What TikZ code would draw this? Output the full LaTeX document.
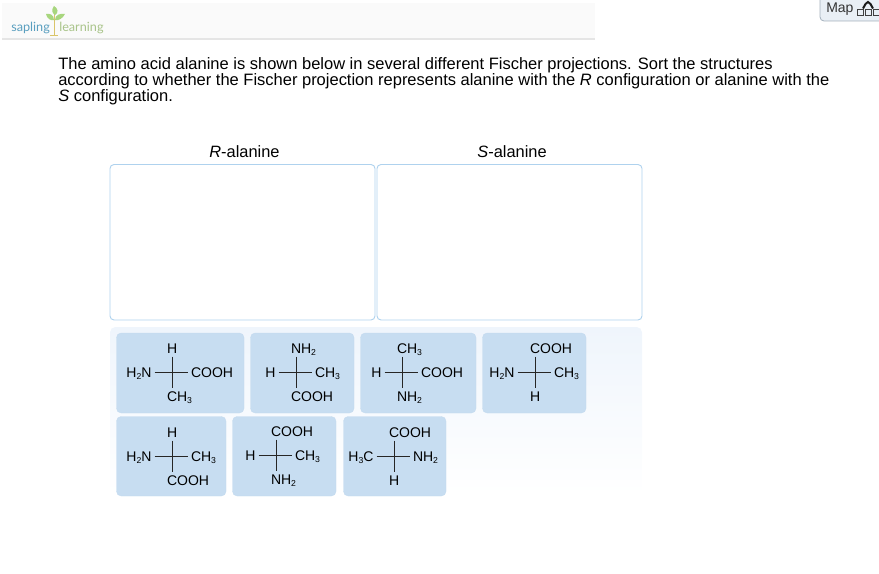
\documentclass[tikz,border=0pt]{standalone}
\usepackage{fontspec}
\setmainfont{Liberation Sans}
\newfontfamily\logofont{Lato}
\definecolor{cardblue}{HTML}{C7DDF1}
\definecolor{cardedge}{HTML}{C3DAEF}
\definecolor{boxedge}{HTML}{AFD2EE}
\definecolor{trayblue}{HTML}{EFF5FC}
\definecolor{logoblue}{HTML}{5A9FBF}
\definecolor{logogreen}{HTML}{A9C48A}
\definecolor{leafgreen}{HTML}{A8D67E}
\definecolor{stemyellow}{HTML}{D9C46A}
\definecolor{mapfill}{HTML}{E9EFF5}
\definecolor{mapedge}{HTML}{A3B0BC}
\tikzset{
 card/.style={draw=cardedge,fill=cardblue,rounded corners=3.5pt,line width=0.3pt},
 dropbox/.style={draw=boxedge,fill=white,rounded corners=3pt,line width=0.7pt},
 atom/.style={font=\fontsize{10.5}{12}\selectfont,inner sep=0pt,outer sep=2.25pt,text height=7.5pt,text depth=0pt},
 bond/.style={line width=0.7pt,draw=black!85},
 heading/.style={font=\fontsize{12.3}{14}\selectfont},
 question/.style={anchor=base west,inner sep=0pt,font=\fontsize{12.37}{14}\selectfont},
 logotext/.style={anchor=base west,inner sep=0pt,font=\logofont\fontsize{9.5}{11}\selectfont},
}
% one Fischer projection: name, centre, top, left, right, bottom
\newcommand{\fischer}[7]{
 \coordinate (#1c) at (#2,#3);
 \node[atom,anchor=west] (#1t) at (#2-8,#3-23.5) {#4};
 \node[atom,anchor=west] (#1b) at (#2-8,#3+24) {#7};
 \node[atom,anchor=east] (#1l) at (#2-17.5,#3) {#5};
 \node[atom,anchor=west] (#1r) at (#2+16,#3) {#6};
 \draw[bond] (#1t.south -| #1c) -- (#1b.north -| #1c);
 \draw[bond] (#1l) -- (#1r);
}
\newcommand{\subnum}[1]{\raisebox{-0.3ex}{\fontsize{6.5}{7}\selectfont #1}}
\newcommand{\HHN}{H\subnum{2}N}
\newcommand{\NHH}{NH\subnum{2}}
\newcommand{\CHHH}{CH\subnum{3}}
\newcommand{\HHHC}{H\subnum{3}C}
\begin{document}
\begin{tikzpicture}[x=0.75pt,y=-0.75pt]
\useasboundingbox (0,0) rectangle (879,574);
%header
\fill[black!2] (2,3) rectangle (595,38);
\draw[black!10,line width=0.8pt] (2,39) -- (595,39);
\node[logotext,text=logoblue] (sapling) at (11,32) {sapling};
\node[logotext,text=logogreen] (learning) at (59,32) {learning};
\draw[stemyellow,line width=0.7pt] (54,14) -- (54,35) (50,35.5) -- (58,35.5);
\fill[leafgreen] (54,20) .. controls (51,21) and (47,19) .. (46,14) .. controls (50,13) and (54,15) .. (54,20);
\fill[leafgreen] (55,20) .. controls (59,21) and (63,18) .. (65,14) .. controls (60,13) and (55,15) .. (55,20);
\fill[leafgreen] (55,15) .. controls (52,13) and (51,10) .. (54,6) .. controls (58,8) and (59,13) .. (55,15);
%map button
\draw[mapedge,fill=mapfill,rounded corners=3pt,line width=0.6pt] (820,-5) rectangle (885,21);
\node[anchor=base west,inner sep=0pt,font=\fontsize{10.5}{12}\selectfont,text=black!80] (map) at (826,13) {Map};
\draw[black!75,line width=0.5pt] (857,9) rectangle (863,15.5) (865,9) rectangle (871,15.5) (873.5,9) rectangle (880,15.5);
\draw[black!90,line width=1.5pt] (863,8.5) -- (865.5,4) -- (868,2) -- (870.5,4) -- (873,8.5);
%question
\node[question] (lineone) at (58,69.5) {The amino acid alanine is shown below in several different Fischer projections. Sort the structures};
\node[question] (linetwo) at (58,85.5) {according to whether the Fischer projection represents alanine with the \textit{R} configuration or alanine with the};
\node[question] (linethree) at (58,102) {\textit{S} configuration.};
%sorting boxes
\node[heading] (rhead) at (244.5,151.5) {\textit{R}-alanine};
\node[heading] (shead) at (512,151.5) {\textit{S}-alanine};
\draw[dropbox] (110,164.5) rectangle (375,320);
\draw[dropbox] (377,164.5) rectangle (642,320);
%tray
\shade[top color=trayblue,bottom color=white,rounded corners=4pt] (110,327) rectangle (642,495);
%cards
\foreach \xa/\ya/\xb/\yb in {116.5/333/244/413,250.5/333/354/413,360.5/333/476/413,482.5/333/586/413,116.5/416.5/226/496,232.5/416.5/336/496,343.5/416.5/446/496}
 \draw[card] (\xa,\ya) rectangle (\xb,\yb);
\fischer{a}{172}{372}{H}{\HHN}{COOH}{\CHHH}
\fischer{b}{296}{372}{\NHH}{H}{\CHHH}{COOH}
\fischer{c}{402}{372}{\CHHH}{H}{COOH}{\NHH}
\fischer{d}{535}{372}{COOH}{\HHN}{\CHHH}{H}
\fischer{e}{172}{456}{H}{\HHN}{\CHHH}{COOH}
\fischer{f}{276}{455}{COOH}{H}{\CHHH}{\NHH}
\fischer{g}{394}{456}{COOH}{\HHHC}{\NHH}{H}
\end{tikzpicture}
\end{document}
